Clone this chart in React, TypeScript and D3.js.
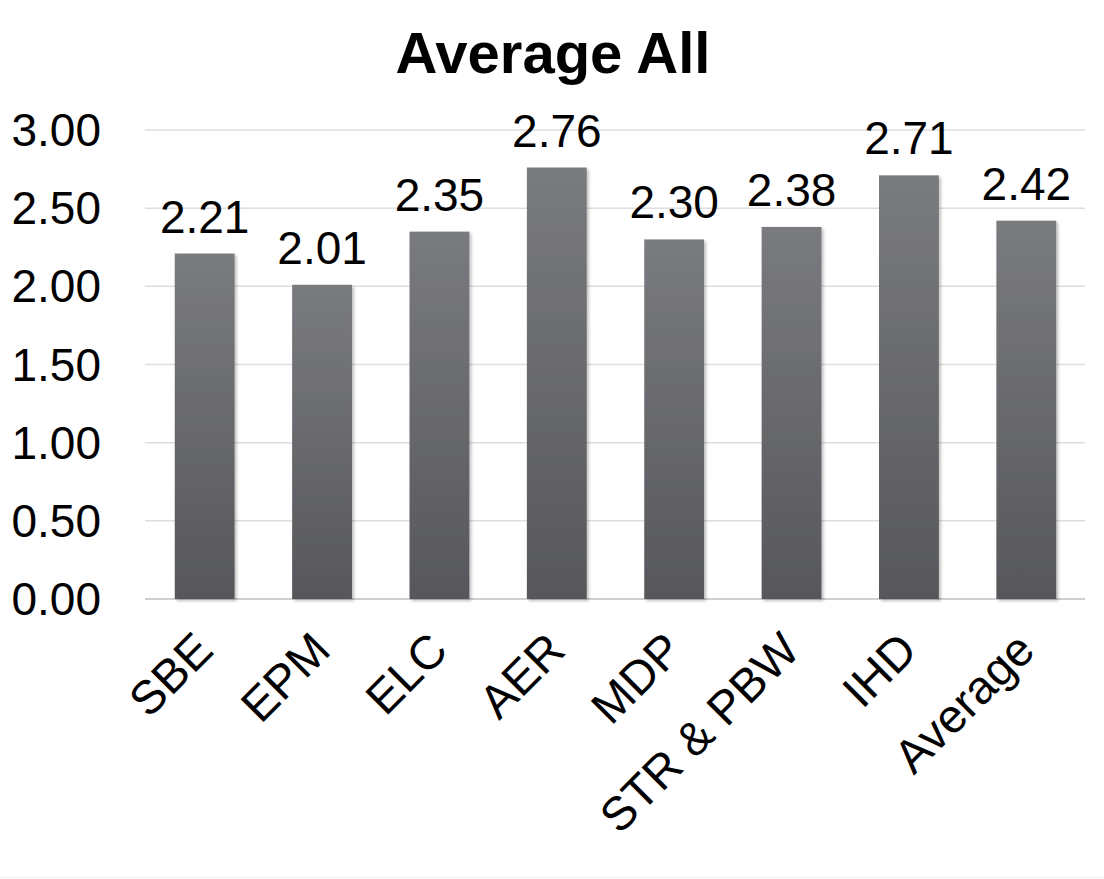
import React from "react";
import * as d3 from "d3";

const categories = ["SBE", "EPM", "ELC", "AER", "MDP", "STR & PBW", "IHD", "Average"];
const values = [2.21, 2.01, 2.35, 2.76, 2.3, 2.38, 2.71, 2.42];
const yTicks = [0, 0.5, 1, 1.5, 2, 2.5, 3];
const title = "Average All";

const W = 1104;
const H = 879;
const FONT = "'Liberation Sans', Arial, sans-serif";

export default function App() {
  const x = d3.scaleBand<string>().domain(categories).range([146, 1085]).paddingInner(0.49).paddingOuter(0.245);
  const y = d3.scaleLinear().domain([0, 3]).range([599, 130]);
  const fmt = d3.format(".2f");
  const bw = x.bandwidth();

  return (
    <svg width={W} height={H} style={{ position: "absolute", left: 0, top: 0, display: "block", background: "#fff" }} fontFamily={FONT}>
      <defs>
        <linearGradient id="barGrad" x1="0" y1="0" x2="0" y2="1">
          <stop offset="0%" stopColor="#7a7b7f" />
          <stop offset="100%" stopColor="#56575b" />
        </linearGradient>
        <filter id="shadow" x="-20%" y="-5%" width="150%" height="115%">
          <feDropShadow dx="2" dy="2" stdDeviation="1.5" floodColor="#000" floodOpacity="0.25" />
        </filter>
      </defs>
      <rect x={0} y={0} width={W} height={H} fill="#fff" />
      <line x1={0} x2={W} y1={H - 1.5} y2={H - 1.5} stroke="#eeeeee" strokeWidth={1} />
      <text x={553} y={73} textAnchor="middle" fontSize={58} fontWeight="bold" fill="#000">{title}</text>
      {yTicks.map((t) => (
        <g key={t}>
          <line x1={145} x2={1085} y1={y(t)} y2={y(t)} stroke={t === 0 ? "#d0d0d0" : "#dedede"} strokeWidth={t === 0 ? 2 : 1.5} />
          <text x={101} y={y(t) + 16} textAnchor="end" fontSize={46} fill="#000">{fmt(t)}</text>
        </g>
      ))}
      {categories.map((c, i) => (
        <rect key={c} x={x(c)} y={y(values[i])} width={bw} height={y(0) - y(values[i])} fill="url(#barGrad)" filter="url(#shadow)" />
      ))}
      {categories.map((c, i) => (
        <text key={c} x={(x(c) as number) + bw / 2} y={y(values[i]) - 21} textAnchor="middle" fontSize={46} fill="#000">{fmt(values[i])}</text>
      ))}
      {categories.map((c) => (
        <text key={c} transform={`translate(${(x(c) as number) + bw / 2 - 1},641) rotate(-45)`} textAnchor="end" dy="0.35em" fontSize={47} fill="#000">{c}</text>
      ))}
    </svg>
  );
}
